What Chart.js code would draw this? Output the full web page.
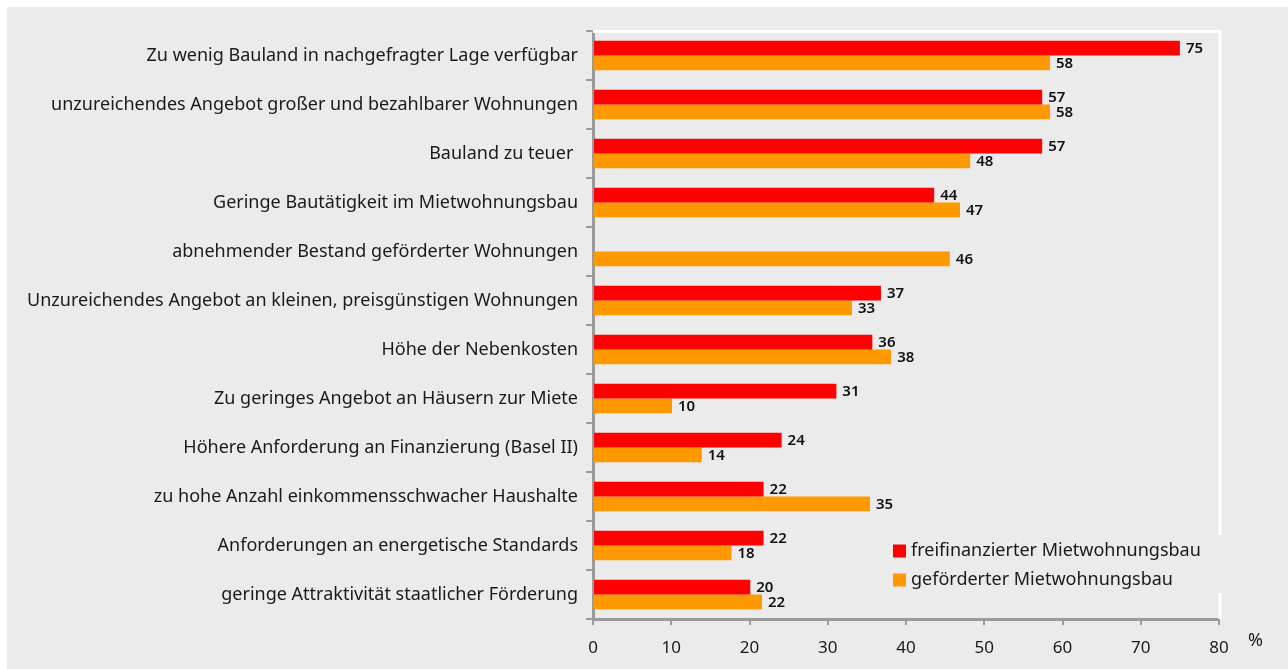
<!DOCTYPE html>
<html><head><meta charset="utf-8">
<script src="https://cdn.jsdelivr.net/npm/chart.js@4.4.1/dist/chart.umd.min.js"></script>
<style>
html,body{margin:0;padding:0;background:#fff;}
#wrap{position:absolute;left:7px;top:7px;width:1281px;height:662px;background:#ebebeb;}
canvas{display:block;}
</style></head><body>
<div id="wrap"><canvas id="c" width="1281" height="662"></canvas></div>
<script>
const categories = [
  "Zu wenig Bauland in nachgefragter Lage verfügbar",
  "unzureichendes Angebot großer und bezahlbarer Wohnungen",
  "Bauland zu teuer ",
  "Geringe Bautätigkeit im Mietwohnungsbau",
  "abnehmender Bestand geförderter Wohnungen",
  "Unzureichendes Angebot an kleinen, preisgünstigen Wohnungen",
  "Höhe der Nebenkosten",
  "Zu geringes Angebot an Häusern zur Miete",
  "Höhere Anforderung an Finanzierung (Basel II)",
  "zu hohe Anzahl einkommensschwacher Haushalte",
  "Anforderungen an energetische Standards",
  "geringe Attraktivität staatlicher Förderung"
];
const seriesNames = ["freifinanzierter Mietwohnungsbau", "geförderter Mietwohnungsbau"];
const freifinanziert = [75, 57.4, 57.4, 43.6, null, 36.8, 35.7, 31.1, 24.1, 21.8, 21.8, 20.1];
const gefoerdert     = [58.4, 58.4, 48.2, 46.9, 45.6, 33.1, 38.1, 10.1, 13.9, 35.4, 17.7, 21.6];
const labelsFrei     = [75, 57, 57, 44, null, 37, 36, 31, 24, 22, 22, 20];
const labelsGef      = [58, 58, 48, 47, 46, 33, 38, 10, 14, 35, 18, 22];
const xTicks = [0, 10, 20, 30, 40, 50, 60, 70, 80];
const colors = ["#ff0000", "#ff9900"];

const FONT = "'Noto Sans', sans-serif";
const TEXT = "#1a1a1a";
const AXIS = "#9b9b9b";

const valueLabels = {
  id: 'valueLabels',
  afterDatasetsDraw(chart) {
    const ctx = chart.ctx;
    const lbls = [labelsFrei, labelsGef];
    ctx.save();
    ctx.font = "600 15px " + FONT;
    ctx.fillStyle = "#111";
    ctx.textBaseline = 'middle';
    ctx.textAlign = 'left';
    chart.data.datasets.forEach((ds, i) => {
      const meta = chart.getDatasetMeta(i);
      meta.data.forEach((bar, j) => {
        const v = lbls[i][j];
        if (v === null || ds.data[j] === null) return;
        ctx.fillText(String(v), bar.x + 6, bar.y + 1);
      });
    });
    ctx.restore();
  }
};

const frame = {
  id: 'frame',
  beforeDatasetsDraw(chart) {
    const a = chart.chartArea, ctx = chart.ctx;
    ctx.save();
    ctx.strokeStyle = '#ffffff';
    ctx.lineWidth = 3;
    ctx.beginPath();
    ctx.moveTo(a.left, a.top + 0.5);
    ctx.lineTo(a.right + 1, a.top + 0.5);
    ctx.lineTo(a.right + 1, a.bottom);
    ctx.stroke();
    ctx.restore();
  },
  afterDraw(chart) {
    const a = chart.chartArea, ctx = chart.ctx;
    ctx.save();
    // legend box
    ctx.fillStyle = '#ebebeb';
    ctx.fillRect(a.right - 330, a.bottom - 84, 340, 58);
    ctx.font = "18px " + FONT;
    ctx.textBaseline = 'middle';
    ctx.textAlign = 'left';
    const lx = 886, ly = [544, 573];
    seriesNames.forEach((n, i) => {
      ctx.fillStyle = colors[i];
      ctx.fillRect(lx, ly[i] - 6.5, 13, 13);
      ctx.fillStyle = TEXT;
      ctx.fillText(n, lx + 18, ly[i]);
    });
    // % unit
    ctx.font = "18px " + FONT;
    ctx.fillText('%', 1241, 634);
    ctx.restore();
  }
};

new Chart(document.getElementById('c'), {
  type: 'bar',
  data: {
    labels: categories,
    datasets: [
      { label: seriesNames[0], data: freifinanziert, backgroundColor: colors[0] },
      { label: seriesNames[1], data: gefoerdert, backgroundColor: colors[1] }
    ]
  },
  options: {
    indexAxis: 'y',
    responsive: false,
    animation: false,
    events: [],
    layout: { padding: { left: 0, top: 24, right: 69, bottom: 0 } },
    categoryPercentage: 0.6,
    barPercentage: 1.0,
    plugins: { legend: { display: false }, tooltip: { enabled: false } },
    scales: {
      x: {
        min: 0, max: 80,
        afterBuildTicks(s) { s.ticks = xTicks.map(v => ({ value: v })); },
        afterFit(s) { s.height = 50; },
        border: { display: true, color: AXIS, width: 3 },
        grid: { display: true, drawOnChartArea: false, drawTicks: true, tickLength: 6, color: AXIS, lineWidth: 2 },
        ticks: { color: TEXT, font: { family: FONT, size: 17 }, padding: 13 }
      },
      y: {
        afterFit(s) { s.width = 586; },
        border: { display: true, color: AXIS, width: 3 },
        grid: { display: true, offset: true, drawOnChartArea: false, drawTicks: true, tickLength: 7, color: AXIS, lineWidth: 2 },
        ticks: { color: TEXT, font: { family: FONT, size: 18 }, padding: 8, autoSkip: false }
      }
    }
  },
  plugins: [frame, valueLabels]
});
</script>
</body></html>
